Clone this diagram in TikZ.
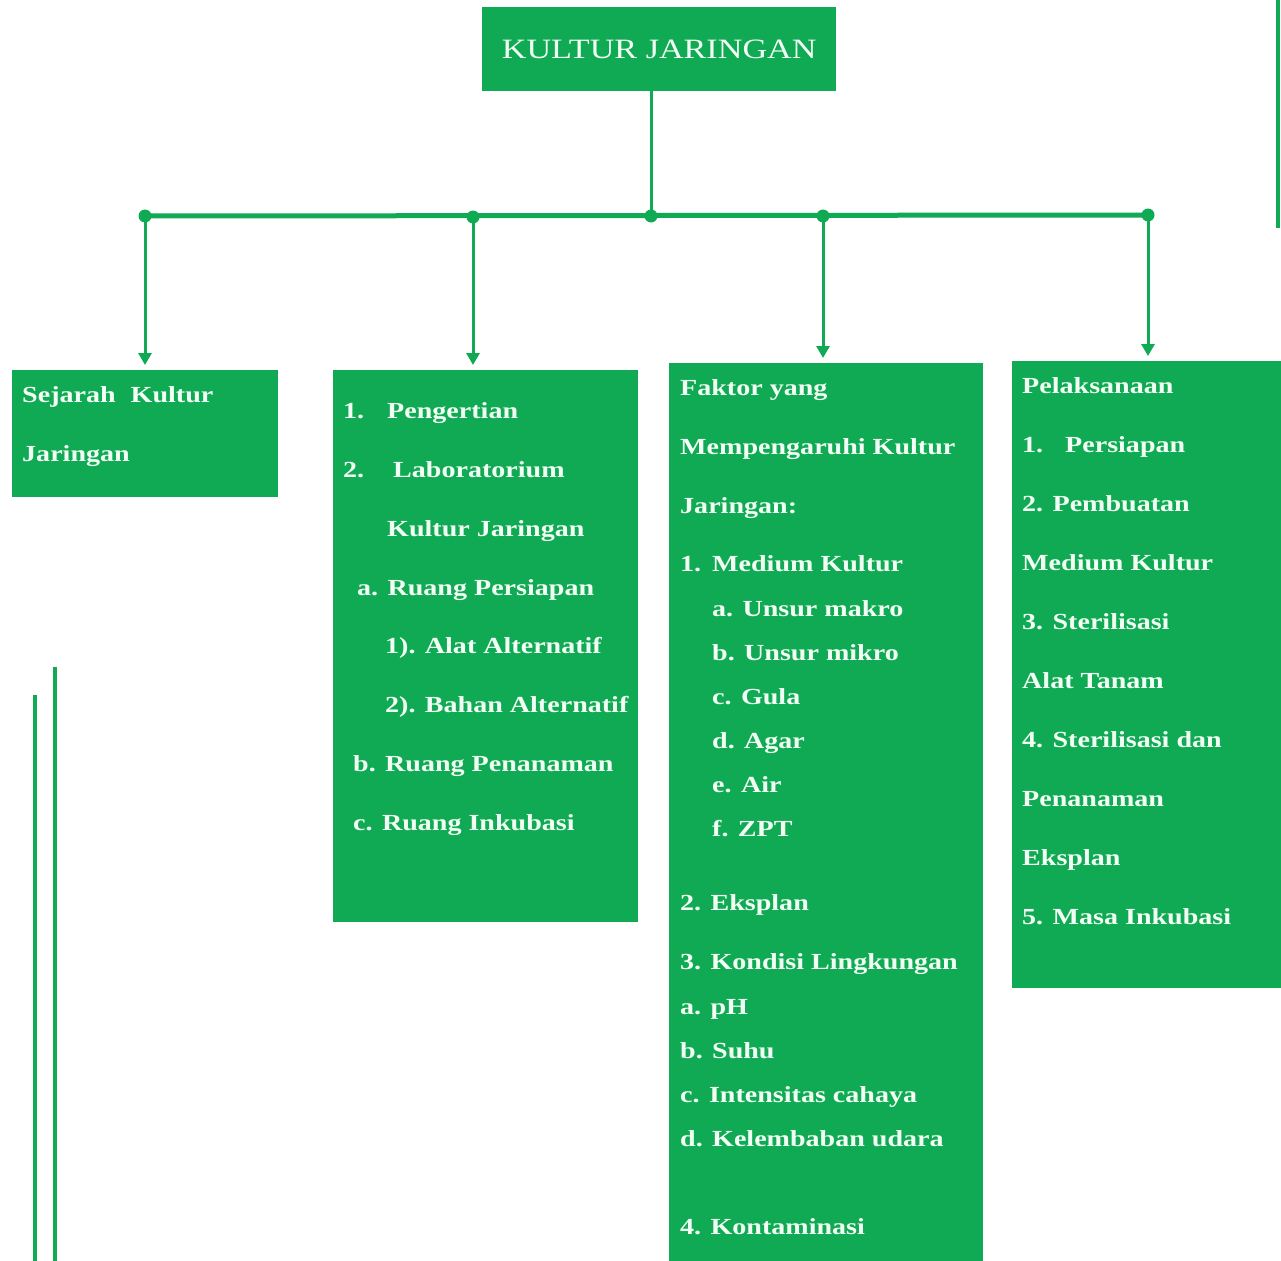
\documentclass[tikz,border=0pt]{standalone}
\usepackage{fontspec}
\setmainfont[FakeStretch=1.22]{Liberation Serif}
\usetikzlibrary{arrows.meta}
\definecolor{kgreen}{RGB}{17,170,84}
\definecolor{ktext}{RGB}{242,255,244}
\begin{document}
\begin{tikzpicture}[x=1pt,y=-1pt,
  box/.style={fill=kgreen, draw=none, inner sep=0pt, anchor=north west},
  lbl/.style={text=ktext, font=\bfseries\fontsize{23}{28}\selectfont, anchor=base west, inner sep=0pt},
  link/.style={draw=kgreen, line width=3pt},
  bar/.style={draw=kgreen, line width=5pt},
  arr/.style={link, -{Triangle[width=13pt,length=12pt]}, shorten >=5pt},
  dotfill/.style={fill=kgreen},
  edge line/.style={draw=kgreen, line width=4.5pt}
]
\useasboundingbox (0,0) rectangle (1281,1260);
\fill[white] (0,0) rectangle (1281,1260);

% title
\node[box, minimum width=354pt, minimum height=84pt, text=ktext,
      font=\fontsize{28}{30}\selectfont] (title) at (482,7) {KULTUR JARINGAN};

% boxes
\node[box, minimum width=266pt, minimum height=127pt] (b1) at (12,370) {};
\node[box, minimum width=305pt, minimum height=552pt] (b2) at (333,370) {};
\node[box, minimum width=314pt, minimum height=900pt] (b3) at (669,363) {};
\node[box, minimum width=275pt, minimum height=627pt] (b4) at (1012,361) {};

% junctions
\coordinate (hub) at (651,216);
\coordinate (d1) at (145,216);
\coordinate (d2) at (473,217);
\coordinate (d4) at (823,216);
\coordinate (d5) at (1148,215);

\draw[link] (hub |- title.south) -- (hub);
\draw[bar] (d1) -- (d5);
\foreach \d in {d1,d2,hub,d4,d5} \fill[dotfill] (\d) circle (6.5pt);

\draw[arr] (d1) -- (d1 |- b1.north);
\draw[arr] (d2) -- (d2 |- b2.north);
\draw[arr] (d4) -- (d4 |- b3.north);
\draw[arr] (d5) -- (d5 |- b4.north);

% decorative edge lines
\draw[edge line] (1278,0) -- (1278,228);
\draw[edge line] (55,667) -- (55,1262);
\draw[edge line] (35,695) -- (35,1262);

% box 1 text
\foreach \x/\y/\t [count=\i] in {
  22/402/{Sejarah\hspace{15pt}Kultur},
  22/461/{Jaringan}}
  \node[lbl] (sa\i) at (\x,\y) {\t};

% box 2 text
\foreach \x/\y/\t [count=\i] in {
  343/418/{\makebox[44pt][l]{1.}Pengertian},
  343/477/{\makebox[50pt][l]{2.}Laboratorium},
  387/536/{Kultur Jaringan},
  357/595/{a. Ruang Persiapan},
  385/653/{1). Alat Alternatif},
  385/712/{2). Bahan Alternatif},
  353/771/{b. Ruang Penanaman},
  353/830/{c. Ruang Inkubasi}}
  \node[lbl] (sb\i) at (\x,\y) {\t};

% box 3 text
\foreach \x/\y/\t [count=\i] in {
  680/395/{Faktor yang},
  680/454/{Mempengaruhi Kultur},
  680/513/{Jaringan:},
  680/571/{\makebox[32pt][l]{1.}Medium Kultur},
  712/616/{a. Unsur makro},
  712/660/{b. Unsur mikro},
  712/704/{c. Gula},
  712/748/{d. Agar},
  712/792/{e. Air},
  712/836/{f. ZPT},
  680/910/{2. Eksplan},
  680/969/{3. Kondisi Lingkungan},
  680/1014/{a. pH},
  680/1058/{b. Suhu},
  680/1102/{c. Intensitas cahaya},
  680/1146/{d. Kelembaban udara},
  680/1234/{4. Kontaminasi}}
  \node[lbl] (sc\i) at (\x,\y) {\t};

% box 4 text
\foreach \x/\y/\t [count=\i] in {
  1022/393/{Pelaksanaan},
  1022/452/{\makebox[43pt][l]{1.}Persiapan},
  1022/511/{2. Pembuatan},
  1022/570/{Medium Kultur},
  1022/629/{3. Sterilisasi},
  1022/688/{Alat Tanam},
  1022/747/{4. Sterilisasi dan},
  1022/806/{Penanaman},
  1022/865/{Eksplan},
  1022/924/{5. Masa Inkubasi}}
  \node[lbl] (sd\i) at (\x,\y) {\t};
\end{tikzpicture}
\end{document}
